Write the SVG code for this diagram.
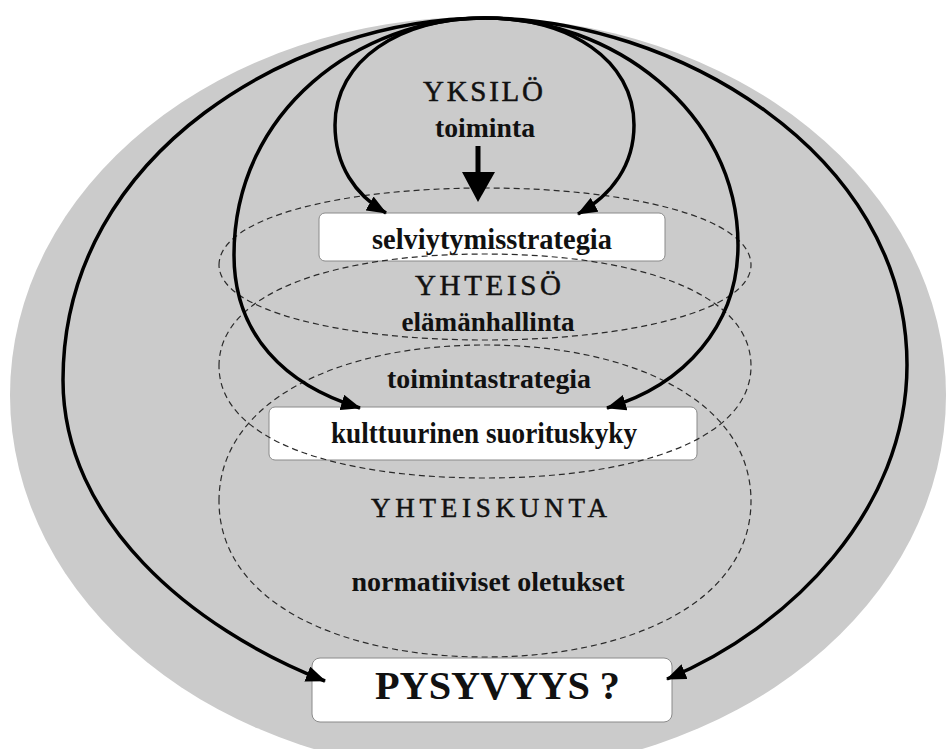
<svg xmlns="http://www.w3.org/2000/svg" width="950" height="749" viewBox="0 0 950 749">
  <style>
    .cap { font-family: "Liberation Serif", "Times New Roman", serif; font-weight: normal; fill: #111; stroke: #111; stroke-width: 0.5; text-anchor: middle; }
    .low { font-family: "Liberation Serif", "Times New Roman", serif; font-weight: bold; fill: #111; text-anchor: middle; }
    .box { fill: #fff; stroke: #8a8a8a; stroke-width: 1; }
    .zone { fill: none; stroke: #2a2a2a; stroke-width: 1.2; stroke-dasharray: 6 4; }
    .flow { fill: none; stroke: #000; stroke-width: 3.5; marker-end: url(#head); }
  </style>
  <defs>
    <marker id="head" viewBox="0 0 20 16" refX="19" refY="8" markerWidth="20" markerHeight="16" markerUnits="userSpaceOnUse" orient="auto">
      <path d="M0,0 L20,8 L0,16 z" fill="#000"/>
    </marker>
  </defs>

  <rect width="950" height="749" fill="#fff"/>

  <!-- outer grey field -->
  <ellipse id="field" cx="478" cy="395" rx="468" ry="378" fill="#cbcbcb"/>

  <!-- boxes -->
  <g id="selviytymisstrategia">
    <rect class="box" x="319" y="213" width="346" height="48" rx="6"/>
    <text class="low" x="492" y="249" font-size="29" textLength="240" lengthAdjust="spacingAndGlyphs">selviytymisstrategia</text>
  </g>
  <g id="kulttuurinen">
    <rect class="box" x="269" y="407" width="428" height="53" rx="6"/>
    <text class="low" x="484" y="443" font-size="29" textLength="306" lengthAdjust="spacingAndGlyphs">kulttuurinen suorituskyky</text>
  </g>
  <g id="pysyvyys">
    <rect class="box" x="312" y="658" width="360" height="64" rx="8"/>
    <text class="low" x="497.5" y="699" font-size="41" textLength="245" lengthAdjust="spacingAndGlyphs">PYSYVYYS ?</text>
  </g>

  <!-- dashed level zones -->
  <g id="zones">
    <path class="zone" d="M219,265 C219,218 340,188 485,188 C630,188 751,218 751,265 C751,310 630,340 485,340 C340,340 219,310 219,265 Z"/>
    <path class="zone" d="M219,366 C219,290 340,254 485,254 C630,254 751,290 751,366 C751,442 630,478 485,478 C340,478 219,442 219,366 Z"/>
    <path class="zone" d="M219,501 C219,400 340,345 485,345 C630,345 751,400 751,501 C751,602 630,657 485,657 C340,657 219,602 219,501 Z"/>
  </g>

  <!-- level labels -->
  <g id="yksilo">
    <text class="cap" x="483" y="101" font-size="29" textLength="120" lengthAdjust="spacing">YKSILÖ</text>
    <text class="low" x="485" y="137" font-size="28" textLength="100" lengthAdjust="spacingAndGlyphs">toiminta</text>
  </g>
  <g id="yhteiso">
    <text class="cap" x="488" y="295" font-size="29" textLength="146" lengthAdjust="spacing">YHTEISÖ</text>
    <text class="low" x="488" y="331" font-size="28" textLength="173" lengthAdjust="spacingAndGlyphs">elämänhallinta</text>
    <text class="low" x="489" y="388" font-size="28" textLength="204" lengthAdjust="spacingAndGlyphs">toimintastrategia</text>
  </g>
  <g id="yhteiskunta">
    <text class="cap" x="489" y="517" font-size="27" textLength="236" lengthAdjust="spacing">YHTEISKUNTA</text>
    <text class="low" x="488" y="591" font-size="28" textLength="273" lengthAdjust="spacingAndGlyphs">normatiiviset oletukset</text>
  </g>

  <!-- connectors -->
  <g id="connectors">
    <path class="flow" d="M485,18 C300,18 63,150 63,380 C63,520 190,628 325,681"/>
    <path class="flow" d="M485,18 C670,18 907,150 907,365 C907,510 790,628 667,679"/>
    <path class="flow" d="M485,18 C360,18 234,110 234,255 C234,335 285,385 360,408"/>
    <path class="flow" d="M485,18 C610,18 738,110 738,245 C738,325 685,385 607,408"/>
    <path class="flow" d="M485,18 C400,18 335,60 335,125 C335,165 355,195 386,213"/>
    <path class="flow" d="M485,18 C570,18 634,60 634,125 C634,165 612,195 578,214"/>
    <rect x="475.5" y="146" width="5" height="28" fill="#000"/>
    <path d="M462,172 L495,172 L478,202 z" fill="#000"/>
  </g>
</svg>
